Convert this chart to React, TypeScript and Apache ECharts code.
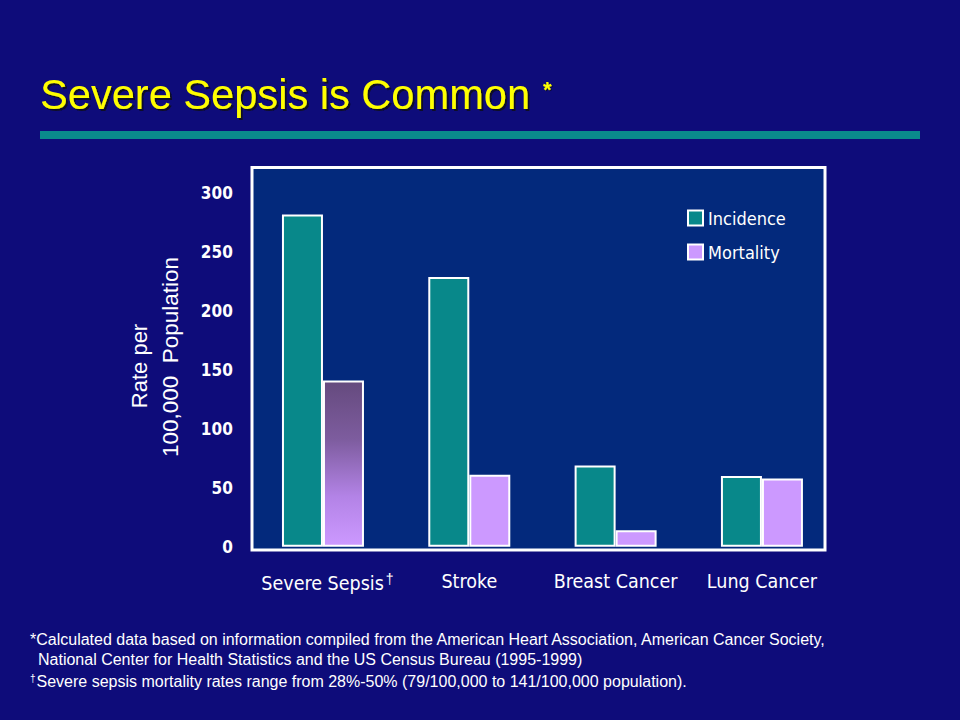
import React, { useEffect, useRef } from "react";
import * as echarts from "echarts";

const categories = ["Severe Sepsis", "Stroke", "Breast Cancer", "Lung Cancer"];
const incidence = [282, 229, 69, 60];
const mortality = [141, 61, 14, 58];
const yTicks = { min: 0, max: 300, interval: 50 };
const seriesNames = ["Incidence", "Mortality"];
const titleText = "Severe Sepsis is Common";
const yName1 = "Rate per";
const yName2 = "100,000  Population";
const foot1 = "*Calculated data based on information compiled from the American Heart Association, American Cancer Society,";
const foot2 = "National Center for Health Statistics and the US Census Bureau (1995-1999)";
const foot3 = "Severe sepsis mortality rates range from 28%-50% (79/100,000 to 141/100,000 population).";

const NARROW = '"Liberation Sans Narrow", "DejaVu Sans Condensed", sans-serif';
const COND = '"DejaVu Sans Condensed", "Liberation Sans Narrow", sans-serif';
const SANS = '"Liberation Sans", Arial, sans-serif';

export default function App() {
  const ref = useRef<HTMLDivElement>(null);
  useEffect(() => {
    if (!ref.current) return;
    const chart = echarts.init(ref.current, undefined, { renderer: "svg" });
    const sepsisGradient = new echarts.graphic.LinearGradient(0, 0, 0, 1, [
      { offset: 0, color: "#654a7e" },
      { offset: 0.35, color: "#7d5c9e" },
      { offset: 0.7, color: "#b383e6" },
      { offset: 1, color: "#cc99ff" },
    ]);
    const option: any = {
      animation: false,
      backgroundColor: "#0e0c7a",
      grid: { left: 249.8, right: 124.9, top: 193.3, bottom: 173.3 },
      legend: {
        data: seriesNames,
        orient: "vertical",
        left: 687,
        top: 209,
        padding: 0,
        itemWidth: 15,
        itemHeight: 15,
        itemGap: 16,
        icon: "rect",
        itemStyle: { borderColor: "#ffffff", borderWidth: 2 },
        textStyle: { color: "#ffffff", fontFamily: COND, fontSize: 18, padding: [0, 0, 0, 0] },
      },
      xAxis: {
        type: "category",
        data: categories,
        axisLine: { show: false },
        axisTick: { show: false },
        axisLabel: {
          interval: 0,
          color: "#ffffff",
          margin: 25,
          fontFamily: COND,
          fontSize: 19.5,
          formatter: (v: string) => (v === "Severe Sepsis" ? `{p|}{a|${v}}{d|†}` : `{a|${v}}`),
          rich: {
            p: { width: 9 },
            a: { color: "#ffffff", fontFamily: COND, fontSize: 19.5 },
            d: { color: "#ffffff", fontFamily: SANS, fontSize: 14, padding: [0, 0, 9, 2] },
          },
        },
      },
      yAxis: {
        type: "value",
        min: yTicks.min,
        max: yTicks.max,
        interval: yTicks.interval,
        axisLine: { show: false },
        axisTick: { show: false },
        splitLine: { show: false },
        axisLabel: {
          color: "#ffffff",
          fontFamily: NARROW,
          fontWeight: "bold",
          fontSize: 17,
          margin: 17,
        },
      },
      graphic: {
        elements: [
          {
            type: "rect",
            z: -10,
            shape: { x: 252, y: 167.5, width: 573, height: 382.5 },
            style: { fill: "#03297c", stroke: "#ffffff", lineWidth: 3 },
            silent: true,
          },
          {
            type: "rect",
            shape: { x: 40, y: 131, width: 880, height: 8 },
            style: { fill: "#0a8a8c" },
            silent: true,
          },
          {
            type: "text",
            x: 40,
            y: 94,
            style: {
              text: titleText,
              font: `41.6px ${SANS}`,
              fill: "#ffff00",
              textVerticalAlign: "middle",
              textShadowColor: "rgba(10,10,30,0.9)",
              textShadowOffsetX: 2,
              textShadowOffsetY: 2,
              textShadowBlur: 1,
            },
            silent: true,
          },
          {
            type: "text",
            x: 543,
            y: 89,
            style: {
              text: "*",
              font: `bold 22px ${SANS}`,
              fill: "#ffff00",
              textVerticalAlign: "middle",
              textShadowColor: "rgba(10,10,30,0.9)",
              textShadowOffsetX: 1,
              textShadowOffsetY: 1,
              textShadowBlur: 1,
            },
            silent: true,
          },
          {
            type: "text",
            x: 139,
            y: 366,
            rotation: Math.PI / 2,
            style: { text: yName1, font: `22px ${SANS}`, fill: "#ffffff", textAlign: "center", textVerticalAlign: "middle" },
            silent: true,
          },
          {
            type: "text",
            x: 170,
            y: 357,
            rotation: Math.PI / 2,
            style: { text: yName2, font: `22.5px ${SANS}`, fill: "#ffffff", textAlign: "center", textVerticalAlign: "middle" },
            silent: true,
          },
          {
            type: "text",
            x: 30,
            y: 639,
            style: { text: foot1, font: `16px ${SANS}`, fill: "#ffffff", textVerticalAlign: "middle" },
            silent: true,
          },
          {
            type: "text",
            x: 38,
            y: 659,
            style: { text: foot2, font: `16px ${SANS}`, fill: "#ffffff", textVerticalAlign: "middle" },
            silent: true,
          },
          {
            type: "text",
            x: 30,
            y: 681,
            style: {
              text: `{s|†}{t|${foot3}}`,
              fill: "#ffffff",
              textVerticalAlign: "middle",
              rich: {
                s: { font: `10px ${SANS}`, fill: "#ffffff", padding: [0, 1, 6, 0] },
                t: { font: `16px ${SANS}`, fill: "#ffffff" },
              },
            },
            silent: true,
          },
        ],
      },
      series: [
        {
          name: seriesNames[0],
          type: "bar",
          data: incidence,
          barWidth: 41,
          barGap: "0%",
          itemStyle: { color: "#08888a", borderColor: "#ffffff", borderWidth: 2 },
        },
        {
          name: seriesNames[1],
          type: "bar",
          data: mortality.map((v, i) => (i === 0 ? { value: v, itemStyle: { color: sepsisGradient } } : v)),
          barWidth: 41,
          barGap: "0%",
          itemStyle: { color: "#cc99ff", borderColor: "#ffffff", borderWidth: 2 },
        },
      ],
    };
    chart.setOption(option);
    return () => chart.dispose();
  }, []);
  return <div ref={ref} style={{ position: "fixed", left: 0, top: 0, width: 960, height: 720 }} />;
}
